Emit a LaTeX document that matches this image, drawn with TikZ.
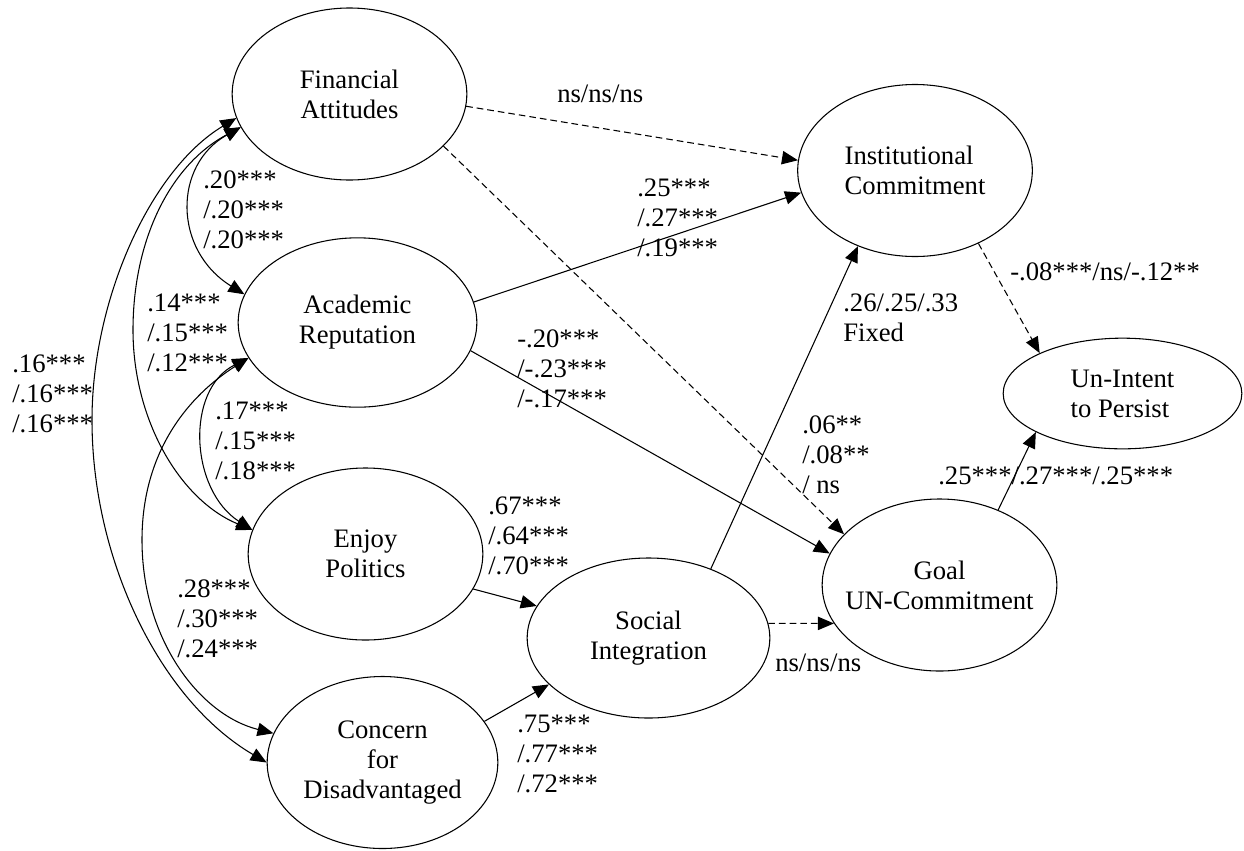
\documentclass[tikz,border=0pt]{standalone}
\usepackage{fontspec}
\setmainfont{Liberation Serif}
\usetikzlibrary{arrows.meta,shapes.geometric}

\begin{document}
\begin{tikzpicture}[
    x=0.75pt, y=-0.75pt,
    font=\fontsize{20}{22.5}\selectfont,
    latent/.style={ellipse, draw, line width=0.8pt, inner xsep=-12pt, inner ysep=0pt,
                   minimum width=176pt, minimum height=129pt, align=center},
    effect/.style={-{Triangle[length=12pt,width=10pt]}, line width=0.8pt},
    nseffect/.style={effect, dash pattern=on 5pt off 3pt},
    cov/.style={{Triangle[length=12pt,width=10pt]}-{Triangle[length=12pt,width=10pt]},
                line width=0.8pt},
    coef/.style={align=left, anchor=north west, inner sep=0pt}
  ]
    \useasboundingbox (0,0) rectangle (1244,850);

    % Exogenous factors
    \node[latent] (fa) at (349.5,94) {Financial\\Attitudes};
    \node[latent, minimum width=179pt, minimum height=127pt] (ar) at (357.5,322.5) {Academic\\Reputation};
    \node[latent] (ep) at (365.5,554) {Enjoy\\Politics};
    \node[latent, minimum width=173pt] (cd) at (382.5,762.5) {Concern\\for\\Disadvantaged};

    % Mediators and outcome
    \node[latent, minimum width=182pt, minimum height=120pt] (si) at (648.5,638) {Social\\Integration};
    \node[latent, align=left] (ic) at (915,170.5) {Institutional\\Commitment};
    \node[latent] (guc) at (939.5,585) {Goal\\UN-Commitment};
    \node[latent, align=left, minimum width=179pt, minimum height=83pt] (uip) at (1122.5,393.5) {Un-Intent\\to Persist};

    % Structural paths
    \draw[nseffect] (fa.354) -- (ic.175);
    \draw[nseffect] (fa.331) -- (guc.152);
    \draw[effect] (ar.10) -- (ic.191);
    \draw[effect] (ar.346) -- (guc.164);
    \draw[effect] (ep.342) -- (si.164);
    \draw[effect] (cd.22) -- (si.205);
    \draw[effect] (si.48) -- (ic.233);
    \draw[nseffect] (si.7) -- (guc.200);
    \draw[nseffect] (ic.311) -- (uip.154);
    \draw[effect] (guc.52) -- (uip.204);

    % Correlations among exogenous factors
    \draw[cov] (fa.197) .. controls (173,165) and (173,250) .. (ar.166);
    \draw[cov] (fa.197) .. controls (170,165) and (133,240) .. (133,330)
                        .. controls (133,420) and (180,500) .. (ep.168);
    \draw[cov] (fa.192) .. controls (150,170) and (92,300) .. (92,420)
                        .. controls (92,560) and (160,700) .. (cd.180);
    \draw[cov] (ar.198) .. controls (185,390) and (190,490) .. (ep.168);
    \draw[cov] (ar.198) .. controls (190,395) and (142,450) .. (142,540)
                        .. controls (142,640) and (200,715) .. (cd.165);

    % Coefficients
    \node[coef] (c1) at (557,85) {ns/ns/ns};
    \node[coef] (c2) at (637,179) {.25***\\/.27***\\/.19***};
    \node[coef] (c3) at (517,329) {-.20***\\/-.23***\\/-.17***};
    \node[coef] (c4) at (843,294) {.26/.25/.33\\Fixed};
    \node[coef] (c5) at (1010,262) {-.08***/ns/-.12**};
    \node[coef] (c6) at (802,415) {.06**\\/.08**\\/ ns};
    \node[coef] (c7) at (938,467) {.25***/.27***/.25***};
    \node[coef] (c8) at (488,497) {.67***\\/.64***\\/.70***};
    \node[coef] (c9) at (775,654) {ns/ns/ns};
    \node[coef] (c10) at (517,715) {.75***\\/.77***\\/.72***};
    \node[coef] (c11) at (203,170) {.20***\\/.20***\\/.20***};
    \node[coef] (c12) at (147,294) {.14***\\/.15***\\/.12***};
    \node[coef] (c13) at (12,355) {.16***\\/.16***\\/.16***};
    \node[coef] (c14) at (215,402) {.17***\\/.15***\\/.18***};
    \node[coef] (c15) at (177,579) {.28***\\/.30***\\/.24***};
\end{tikzpicture}
\end{document}
